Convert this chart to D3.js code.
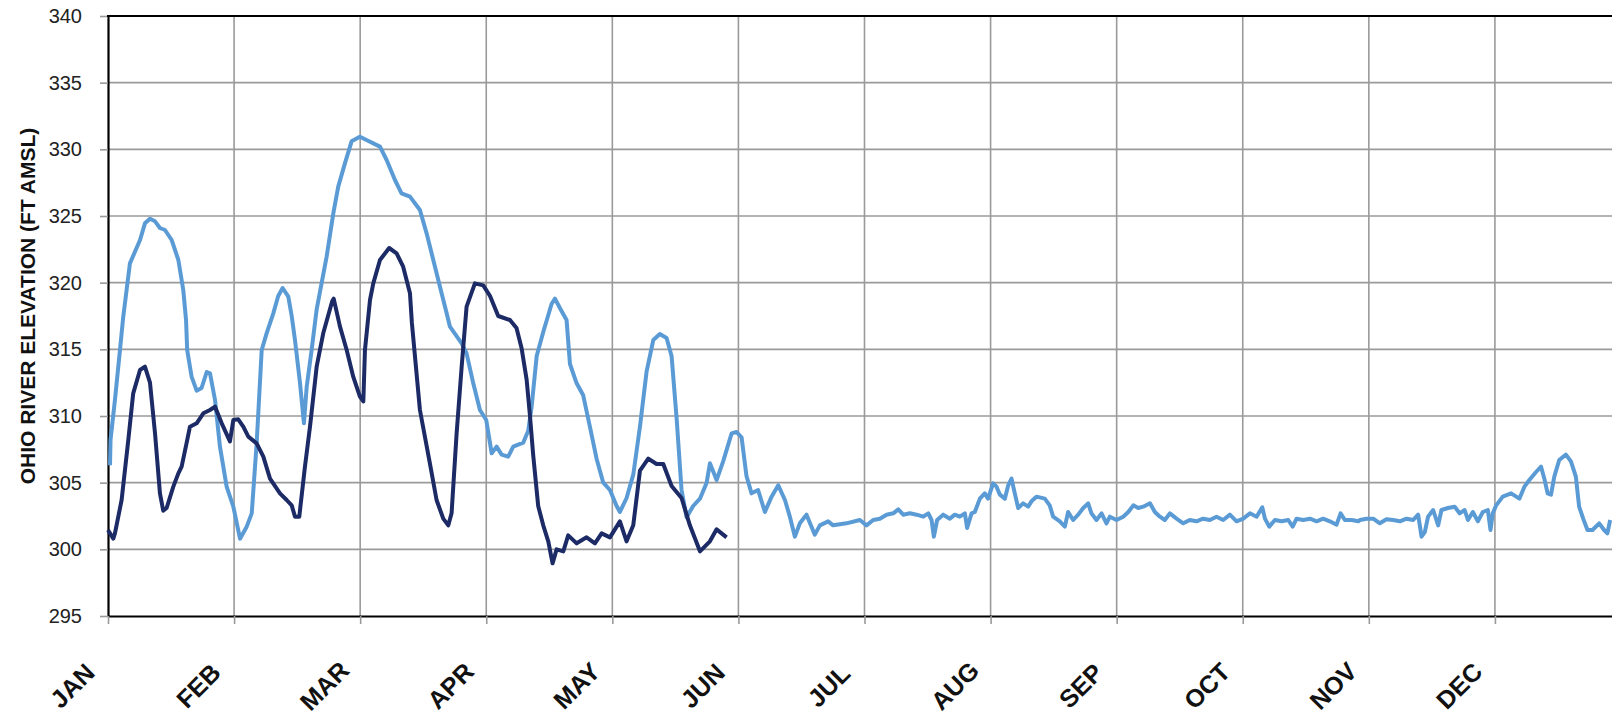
<!DOCTYPE html>
<html>
<head>
<meta charset="utf-8">
<script src="https://cdn.jsdelivr.net/npm/d3@7"></script>
<style>
  html, body { margin: 0; padding: 0; background: #fff; }
  svg { display: block; }
</style>
</head>
<body>
<div id="chart"></div>
<script>
// Month labels (equally spaced category positions 0..11)
const months = ["JAN", "FEB", "MAR", "APR", "MAY", "JUN", "JUL", "AUG", "SEP", "OCT", "NOV", "DEC"];
const elevTicks = [295, 300, 305, 310, 315, 320, 325, 330, 335, 340];

// Light blue series (full year): position in months, elevation ft AMSL
const lightMonth = [0.016, 0.02, 0.055, 0.095, 0.121, 0.174, 0.254, 0.293, 0.333, 0.373, 0.412, 0.452, 0.505, 0.558, 0.597, 0.619, 0.628, 0.663, 0.703, 0.742, 0.783, 0.809, 0.849, 0.888, 0.941, 0.994, 1.047, 1.1, 1.14, 1.179, 1.219, 1.258, 1.311, 1.35, 1.385, 1.43, 1.457, 1.483, 1.523, 1.554, 1.576, 1.615, 1.655, 1.734, 1.787, 1.826, 1.879, 1.932, 1.998, 2.05, 2.157, 2.21, 2.276, 2.328, 2.395, 2.474, 2.527, 2.58, 2.633, 2.686, 2.712, 2.805, 2.844, 2.897, 2.95, 3.0, 3.043, 3.082, 3.122, 3.174, 3.214, 3.293, 3.333, 3.36, 3.4, 3.452, 3.518, 3.545, 3.584, 3.637, 3.664, 3.717, 3.769, 3.822, 3.875, 3.928, 3.981, 4.034, 4.06, 4.113, 4.166, 4.219, 4.272, 4.325, 4.377, 4.43, 4.47, 4.51, 4.549, 4.589, 4.641, 4.695, 4.748, 4.774, 4.827, 4.879, 4.946, 4.985, 5.025, 5.064, 5.104, 5.156, 5.21, 5.263, 5.316, 5.369, 5.408, 5.448, 5.487, 5.54, 5.606, 5.646, 5.712, 5.751, 5.857,
    5.963, 6.016, 6.069, 6.122, 6.175, 6.228, 6.268, 6.307, 6.36, 6.413, 6.466, 6.506, 6.532, 6.55, 6.576, 6.624, 6.677, 6.716, 6.756, 6.796, 6.814, 6.849, 6.875, 6.915, 6.954, 6.98, 7.02, 7.047, 7.074, 7.113, 7.14, 7.166, 7.192, 7.219, 7.258, 7.298, 7.324, 7.364, 7.43, 7.469, 7.496, 7.549, 7.589, 7.615, 7.655, 7.695, 7.735, 7.774, 7.8, 7.84, 7.88, 7.919,
    7.946, 7.999, 8.052, 8.092, 8.132, 8.171, 8.211, 8.264, 8.303, 8.343, 8.382, 8.422, 8.475, 8.528, 8.58, 8.633, 8.686, 8.739, 8.792, 8.845, 8.898, 8.951, 9.004, 9.057, 9.11, 9.155, 9.176, 9.21, 9.255, 9.308, 9.361, 9.396, 9.427, 9.48, 9.533, 9.586, 9.638, 9.691, 9.744, 9.776, 9.81, 9.863, 9.916,
    9.929, 9.982, 10.035, 10.087, 10.14, 10.193, 10.246, 10.299, 10.352, 10.391, 10.418, 10.444, 10.47, 10.51, 10.55, 10.576, 10.628, 10.681, 10.72, 10.76, 10.786, 10.825, 10.865, 10.904, 10.944, 10.965, 10.983, 11.01, 11.062, 11.128, 11.194, 11.234, 11.273, 11.326, 11.366, 11.392, 11.418, 11.445, 11.471, 11.51, 11.563, 11.603, 11.642, 11.668, 11.7, 11.734, 11.774, 11.827, 11.866, 11.892, 11.914];
const lightElev = [306.3, 308.2, 311.2, 314.95, 317.45, 321.45, 323.2, 324.45, 324.8, 324.6, 324.1, 323.95, 323.2, 321.7, 319.45, 317.2, 314.95, 312.95, 311.9, 312.1, 313.3, 313.2, 311.2, 307.7, 304.7, 303.2, 300.8, 301.7, 302.7, 307.95, 314.95, 316.2, 317.7, 319.0, 319.6, 318.95, 317.5, 315.7, 312.45, 309.45, 312.2, 314.95, 318.0, 321.95, 325.2, 327.2, 328.95, 330.6, 330.95, 330.7, 330.2, 329.2, 327.7, 326.7, 326.45, 325.45, 323.7, 321.7, 319.7, 317.7, 316.7, 315.45, 314.7, 312.45, 310.45, 309.7, 307.2, 307.7, 307.1, 306.95, 307.7, 308.0, 308.9, 310.7, 314.5, 316.3, 318.4, 318.8, 318.1, 317.2, 313.9, 312.45, 311.55, 309.2, 306.8, 305.0, 304.45, 303.25, 302.8, 303.85, 305.6, 309.2, 313.35, 315.7, 316.15, 315.85, 314.5, 309.8, 304.45, 302.4, 303.25, 303.8, 305.0, 306.45, 305.2, 306.6, 308.7, 308.8, 308.4, 305.5, 304.2, 304.45, 302.8, 303.95, 304.8, 303.7, 302.45, 300.95, 301.95, 302.6, 301.1, 301.8, 302.1, 301.8, 301.95,
    302.2, 301.8, 302.2, 302.3, 302.6, 302.7, 303.0, 302.6, 302.7, 302.6, 302.45, 302.7, 302.2, 300.95, 302.2, 302.6, 302.3, 302.6, 302.45, 302.7, 301.6, 302.7, 302.8, 303.8, 304.2, 303.8, 304.95, 304.7, 304.1, 303.8, 304.8, 305.3, 304.2, 303.1, 303.45, 303.2, 303.6, 303.95, 303.8, 303.3, 302.45, 302.1, 301.7, 302.8, 302.2, 302.6, 303.1, 303.45, 302.7, 302.2, 302.7, 301.95,
    302.45, 302.2, 302.45, 302.8, 303.3, 303.1, 303.2, 303.45, 302.8, 302.45, 302.2, 302.7, 302.3, 301.95, 302.2, 302.1, 302.3, 302.2, 302.45, 302.2, 302.6, 302.1, 302.3, 302.7, 302.45, 303.15, 302.3, 301.7, 302.2, 302.1, 302.2, 301.7, 302.3, 302.2, 302.3, 302.1, 302.3, 302.1, 301.85, 302.7, 302.2, 302.2, 302.1,
    302.2, 302.3, 302.3, 301.95, 302.25, 302.2, 302.1, 302.3, 302.2, 302.6, 300.95, 301.3, 302.45, 302.95, 301.8, 302.95, 303.1, 303.2, 302.7, 302.95, 302.2, 302.8, 302.1, 302.8, 302.95, 301.45, 302.7, 303.3, 303.95, 304.2, 303.8, 304.7, 305.2, 305.8, 306.2, 305.3, 304.2, 304.1, 305.45, 306.7, 307.1, 306.6, 305.45, 303.2, 302.3, 301.45, 301.45, 301.95, 301.45, 301.2, 302.2];

// Dark navy series (JAN to end of MAY)
const darkMonth = [0, 0.042, 0.055, 0.108, 0.161, 0.2, 0.254, 0.293, 0.333, 0.373, 0.412, 0.438, 0.465, 0.518, 0.558, 0.584, 0.624, 0.65, 0.703, 0.756, 0.809, 0.849, 0.902, 0.967, 0.994, 1.033, 1.073, 1.113, 1.179, 1.232, 1.285, 1.364, 1.417, 1.457, 1.483, 1.517, 1.562, 1.602, 1.655, 1.707, 1.778, 1.79, 1.84, 1.893, 1.945, 1.998, 2.025, 2.038, 2.078, 2.104, 2.157, 2.23, 2.289, 2.341, 2.395, 2.41, 2.474, 2.553, 2.606, 2.659, 2.699, 2.725, 2.765, 2.805, 2.844, 2.91, 2.976, 3.03, 3.095, 3.188, 3.24, 3.28, 3.32, 3.346, 3.372, 3.412, 3.452, 3.492, 3.526, 3.558, 3.611, 3.65, 3.717, 3.796, 3.862, 3.915, 3.981, 4.06, 4.113, 4.166, 4.219, 4.285, 4.351, 4.404, 4.47, 4.549, 4.615, 4.695, 4.774, 4.827, 4.906];
const darkElev = [301.45, 300.8, 301.2, 303.7, 308.2, 311.7, 313.45, 313.7, 312.5, 308.7, 304.2, 302.9, 303.1, 304.7, 305.7, 306.2, 308.0, 309.2, 309.45, 310.2, 310.45, 310.7, 309.45, 308.1, 309.7, 309.75, 309.2, 308.45, 307.95, 306.95, 305.3, 304.2, 303.7, 303.3, 302.45, 302.45, 306.2, 309.2, 313.7, 316.2, 318.6, 318.8, 316.7, 314.95, 312.95, 311.45, 311.1, 314.95, 318.7, 319.95, 321.7, 322.6, 322.2, 321.2, 319.2, 317.0, 310.45, 306.45, 303.7, 302.3, 301.8, 302.7, 308.7, 313.7, 318.2, 319.95, 319.8, 319.0, 317.5, 317.2, 316.6, 315.1, 312.75, 310.1, 307.1, 303.25, 301.8, 300.6, 298.95, 300.0, 299.85, 301.05, 300.45, 300.9, 300.45, 301.2, 300.9, 302.1, 300.6, 301.8, 305.9, 306.8, 306.4, 306.4, 304.75, 303.85, 301.8, 299.85, 300.6, 301.5, 300.9];

const W = 1612, H = 715;
const plot = { left: 108, right: 1621, top: 16, bottom: 616 };

const svg = d3.select("#chart")
    .append("svg")
    .attr("width", W)
    .attr("height", H)
    .style("font-family", "'Liberation Sans', Arial, sans-serif");

svg.append("rect").attr("width", W).attr("height", H).attr("fill", "#fff");

// Scales: months are equally spaced, 12 intervals
const x = d3.scaleLinear().domain([0, 12]).range([plot.left, plot.right]);
const y = d3.scaleLinear().domain([295, 340]).range([plot.bottom, plot.top]);

// Gridlines
svg.append("g")
    .selectAll("line")
    .data(elevTicks.slice(1, -1))
    .enter()
    .append("line")
    .attr("x1", plot.left).attr("x2", W)
    .attr("y1", d => y(d)).attr("y2", d => y(d))
    .attr("stroke", "#9a9a9a")
    .attr("stroke-width", 1.6);

svg.append("g")
    .selectAll("line")
    .data(d3.range(1, 12))
    .enter()
    .append("line")
    .attr("x1", d => x(d)).attr("x2", d => x(d))
    .attr("y1", plot.top).attr("y2", plot.bottom)
    .attr("stroke", "#9a9a9a")
    .attr("stroke-width", 1.6);

// Y axis
const yAxis = svg.append("g")
    .attr("transform", `translate(${plot.left},0)`)
    .call(d3.axisLeft(y).tickValues(elevTicks).tickSize(8).tickSizeOuter(0).tickPadding(18));
yAxis.select(".domain").attr("stroke", "#000").attr("stroke-width", 2.2);
yAxis.selectAll(".tick line").attr("stroke", "#9a9a9a").attr("stroke-width", 1.6);
yAxis.selectAll(".tick text")
    .attr("fill", "#222")
    .style("font-size", "20px");

// X axis, labels rotated 45 degrees
const xAxis = svg.append("g")
    .attr("transform", `translate(0,${plot.bottom})`)
    .call(d3.axisBottom(x).tickValues(d3.range(0, 12)).tickSize(8).tickSizeOuter(0)
        .tickFormat(d => months[d]));
xAxis.select(".domain").attr("stroke", "#000").attr("stroke-width", 2.2);
xAxis.selectAll(".tick line").attr("stroke", "#9a9a9a").attr("stroke-width", 1.6);
xAxis.selectAll(".tick text")
    .attr("x", -30)
    .attr("y", 76)
    .attr("dy", 0)
    .attr("text-anchor", "middle")
    .attr("transform", "rotate(-45,-30,76)")
    .attr("fill", "#111")
    .style("font-size", "25px")
    .style("font-weight", "bold");

// Top border
svg.append("line")
    .attr("x1", plot.left - 1).attr("x2", W)
    .attr("y1", y(340)).attr("y2", y(340))
    .attr("stroke", "#000")
    .attr("stroke-width", 2.2);

// Y axis title
svg.append("text")
    .attr("transform", "translate(27,306) rotate(-90)")
    .attr("text-anchor", "middle")
    .attr("dominant-baseline", "central")
    .attr("fill", "#111")
    .style("font-size", "21px")
    .style("font-weight", "bold")
    .text("OHIO RIVER ELEVATION (FT AMSL)");

// Lines
const line = d3.line()
    .x(d => x(d[0]))
    .y(d => y(d[1]));

svg.append("path")
    .datum(d3.zip(lightMonth, lightElev))
    .attr("fill", "none")
    .attr("stroke", "#5b9bd5")
    .attr("stroke-width", 4)
    .attr("stroke-linejoin", "round")
    .attr("d", line);

svg.append("path")
    .datum(d3.zip(darkMonth, darkElev))
    .attr("fill", "none")
    .attr("stroke", "#1c2a66")
    .attr("stroke-width", 4)
    .attr("stroke-linejoin", "round")
    .attr("d", line);
</script>
</body>
</html>
